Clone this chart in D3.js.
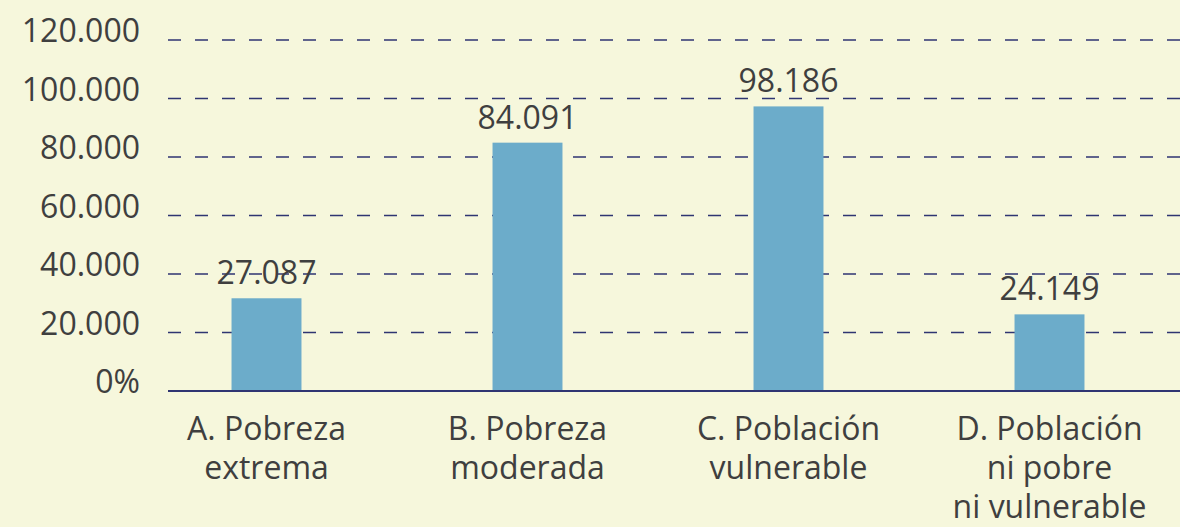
<!DOCTYPE html>
<html>
<head>
<meta charset="utf-8">
<script src="https://cdn.jsdelivr.net/npm/d3@7"></script>
<style>
  html, body { margin: 0; padding: 0; background: #f6f7dc; }
  svg { display: block; font-family: "Open Sans", Lato, sans-serif; }
  .tick-label, .value-label, .cat-label { fill: #3f3f3f; font-size: 32px; }
  .grid line { stroke: #2f3572; stroke-width: 1.3; stroke-dasharray: 13 14; }
  .baseline { stroke: #2f3572; stroke-width: 2; }
  .bar { fill: #6cacca; }
</style>
</head>
<body>
<script>
const WIDTH = 1180;
const HEIGHT = 527;
const LEFT = 168;
const BASE_Y = 391;
const TOP_Y = 40;

// data
var categories = ['A', 'B', 'C', 'D'];
var categoryLines = [
  ['A. Pobreza', 'extrema'],
  ['B. Pobreza', 'moderada'],
  ['C. Población', 'vulnerable'],
  ['D. Población', 'ni pobre', 'ni vulnerable']
];
var barValues = [31700, 84900, 97300, 26200];
var valueLabels = ['27.087', '84.091', '98.186', '24.149'];
var tickValues = [0, 20000, 40000, 60000, 80000, 100000, 120000];
var tickLabels = ['0%', '20.000', '40.000', '60.000', '80.000', '100.000', '120.000'];

var _x, _y;

var createSvg = function(){
  var svg = d3.select('body')
    .append('svg')
    .attr('width', WIDTH)
    .attr('height', HEIGHT);

  _x = d3.scaleBand().domain(categories).range([136, 1180])
    .paddingInner(0.732).paddingOuter(0.366);
  _y = d3.scaleLinear().domain([0, 120000]).range([BASE_Y, TOP_Y]);
  return svg;
}

var drawGrid = function(svg){
  var grid = svg.append('g').classed('grid', true);
  grid.selectAll('line')
    .data(tickValues.slice(1))
    .enter()
    .append('line')
    .attr('x1', LEFT)
    .attr('x2', WIDTH)
    .attr('y1', function(d){ return _y(d); })
    .attr('y2', function(d){ return _y(d); });

  svg.append('g').selectAll('text')
    .data(tickValues)
    .enter()
    .append('text')
    .classed('tick-label', true)
    .attr('x', 140)
    .attr('y', function(d){ return _y(d) + 2; })
    .attr('text-anchor', 'end')
    .text(function(d, i){ return tickLabels[i]; });
}

var drawBars = function(svg){
  var bars = svg.append('g');
  bars.selectAll('rect')
    .data(categories)
    .enter()
    .append('rect')
    .classed('bar', true)
    .attr('x', function(d){ return _x(d); })
    .attr('width', _x.bandwidth())
    .attr('y', function(d, i){ return _y(barValues[i]); })
    .attr('height', function(d, i){ return BASE_Y - _y(barValues[i]); });

  bars.selectAll('text')
    .data(categories)
    .enter()
    .append('text')
    .classed('value-label', true)
    .attr('x', function(d){ return _x(d) + _x.bandwidth()/2; })
    .attr('y', function(d, i){ return _y(barValues[i]) - 14; })
    .attr('text-anchor', 'middle')
    .text(function(d, i){ return valueLabels[i]; });

  svg.append('line')
    .classed('baseline', true)
    .attr('x1', LEFT)
    .attr('x2', WIDTH)
    .attr('y1', BASE_Y)
    .attr('y2', BASE_Y);
}

var drawCategories = function(svg){
  var labels = svg.append('g').selectAll('text')
    .data(categories)
    .enter()
    .append('text')
    .classed('cat-label', true)
    .attr('text-anchor', 'middle')
    .attr('x', function(d){ return _x(d) + _x.bandwidth()/2; })
    .attr('y', 440);

  labels.selectAll('tspan')
    .data(function(d, i){ return categoryLines[i]; })
    .enter()
    .append('tspan')
    .attr('x', function(){ return d3.select(this.parentNode).attr('x'); })
    .attr('dy', function(d, i){ return i == 0 ? 0 : 39; })
    .text(function(d){ return d; });
}

window.onload = function(){
  var svg = createSvg();
  drawGrid(svg);
  drawBars(svg);
  drawCategories(svg);
}
</script>
</body>
</html>
